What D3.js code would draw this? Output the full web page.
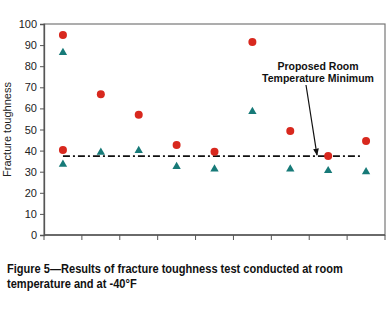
<!DOCTYPE html>
<html>
<head>
<meta charset="utf-8">
<script src="https://cdn.jsdelivr.net/npm/d3@7"></script>
<style>
  body { margin: 0; background: #fff; }
  svg { font-family: "Liberation Sans", Arial, sans-serif; }
</style>
</head>
<body>
<div id="chart"></div>
<script>
// specimens along the x axis (unlabelled in the figure)
var specimens = ["1", "2", "3", "4", "5", "6", "7", "8", "9"];
var roomTemp = [94.8, 66.7, 57, 42.6, 39.5, 91.5, 49.3, 37.4, 44.5];
var minus40 = [86, 38.7, 39.5, 32, 30.8, 58, 30.8, 30, 29.5];
var extraRoom = [{ i: 0, v: 40.3 }];
var extraCold = [{ i: 0, v: 33 }];
var yTicks = [0, 10, 20, 30, 40, 50, 60, 70, 80, 90, 100];
var minimum = 37.4;
var captionLines = ["Figure 5\u2014Results of fracture toughness test conducted at room",
                    "temperature and at -40\u00b0F"];

var margin = { top: 24, right: 3, bottom: 79, left: 44 };
var width = 388 - margin.left - margin.right,
    height = 314 - margin.top - margin.bottom;

var svg = d3.select("#chart").append("svg")
    .attr("width", 388)
    .attr("height", 314);

var g = svg.append("g")
    .attr("transform", "translate(" + margin.left + "," + margin.top + ")");

var x = d3.scaleBand()
    .domain(specimens)
    .range([0, width]);

var y = d3.scaleLinear()
    .domain([0, 100])
    .range([height, 0]);

// frame
g.append("rect")
    .attr("width", width)
    .attr("height", height)
    .attr("fill", "#fff")
    .attr("stroke", "#777")
    .attr("stroke-width", 1.2);

var yAxis = d3.axisLeft(y).tickValues(yTicks).tickSize(4).tickPadding(3);
var ya = g.append("g").call(yAxis);
ya.select(".domain").attr("stroke", "#555").attr("stroke-width", 1.3);
ya.selectAll(".tick line").attr("stroke", "#555");
ya.selectAll("text").attr("font-size", 11).attr("fill", "#222");

// x ticks at band boundaries, no labels
var bounds = specimens.map(function(d) { return x(d); }).concat([width]);
var xa = g.append("g").attr("transform", "translate(0," + height + ")");
xa.append("line").attr("x1", 0).attr("x2", width)
    .attr("stroke", "#555").attr("stroke-width", 1.3);
xa.selectAll(".xt").data(bounds).enter().append("line")
    .attr("x1", function(d) { return d; })
    .attr("x2", function(d) { return d; })
    .attr("y1", 0).attr("y2", 5)
    .attr("stroke", "#555");

// proposed minimum line
var cx = function(i) { return x(specimens[i]) + x.bandwidth() / 2; };
g.append("line")
    .attr("x1", cx(0)).attr("x2", cx(8) - 4)
    .attr("y1", y(minimum)).attr("y2", y(minimum))
    .attr("stroke", "#111")
    .attr("stroke-width", 1.8)
    .attr("stroke-dasharray", "7,3,2,3");

var roomPts = roomTemp.map(function(v, i) { return { i: i, v: v }; }).concat(extraRoom);
var coldPts = minus40.map(function(v, i) { return { i: i, v: v }; }).concat(extraCold);

g.selectAll(".room").data(roomPts).enter().append("circle")
    .attr("cx", function(d) { return cx(d.i); })
    .attr("cy", function(d) { return y(d.v); })
    .attr("r", 4)
    .attr("fill", "#d8281e");

var tri = d3.symbol().type(d3.symbolTriangle).size(30);
g.selectAll(".cold").data(coldPts).enter().append("path")
    .attr("d", tri)
    .attr("transform", function(d) { return "translate(" + cx(d.i) + "," + (y(d.v) - 1) + ")"; })
    .attr("fill", "#177a78");

// annotation
var ann = g.append("text")
    .attr("font-size", 10.5)
    .attr("font-weight", "bold")
    .attr("fill", "#111")
    .attr("text-anchor", "middle");
ann.append("tspan").attr("x", 274).attr("y", 46).text("Proposed Room");
ann.append("tspan").attr("x", 274).attr("y", 58).text("Temperature Minimum");

svg.append("defs").append("marker")
    .attr("id", "arr")
    .attr("viewBox", "0 0 10 10")
    .attr("refX", 9).attr("refY", 5)
    .attr("markerWidth", 6).attr("markerHeight", 6)
    .attr("orient", "auto")
    .append("path").attr("d", "M0,1 L10,5 L0,9 z").attr("fill", "#111");

g.append("line")
    .attr("x1", 262).attr("y1", 61)
    .attr("x2", 273).attr("y2", y(minimum) - 1)
    .attr("stroke", "#111")
    .attr("stroke-width", 1.2)
    .attr("marker-end", "url(#arr)");

// y axis title
svg.append("text")
    .attr("transform", "translate(11," + (margin.top + height / 2) + ") rotate(-90)")
    .attr("text-anchor", "middle")
    .attr("font-size", 11)
    .attr("fill", "#222")
    .text("Fracture toughness");

// caption: original uses a condensed face, so squeeze horizontally
var cap = svg.append("g").attr("transform", "translate(7,0)");
var capText = cap.append("text")
    .attr("font-size", 13.5)
    .attr("font-weight", "bold")
    .attr("fill", "#111");
capText.append("tspan").attr("x", 0).attr("y", 273).text(captionLines[0]);
capText.append("tspan").attr("x", 0).attr("y", 288).text(captionLines[1]);
var natural = capText.select("tspan").node().getComputedTextLength();
cap.attr("transform", "translate(7,0) scale(" + (336 / natural) + ",1)");
</script>
</body>
</html>
